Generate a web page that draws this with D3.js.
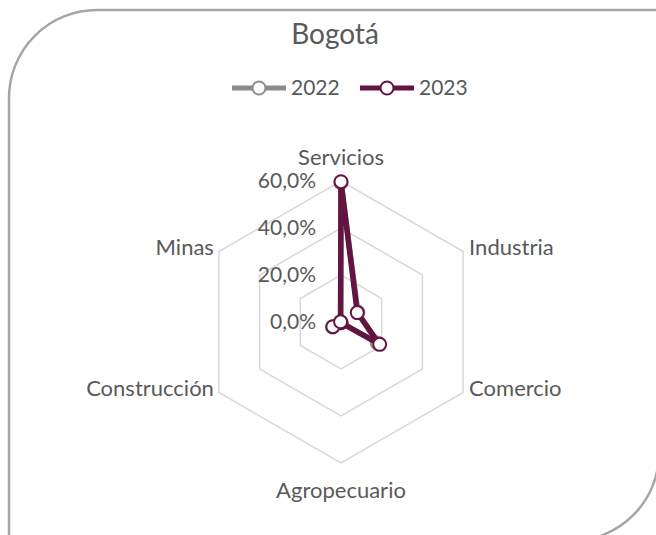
<!DOCTYPE html>
<meta charset="utf-8">
<style>
    body { margin: 0; background: #fff; }
    text { font-family: Lato, "Open Sans", sans-serif; fill: #595959; }
</style>
<svg width="656" height="535"></svg>
<script src="https://cdn.jsdelivr.net/npm/d3@7/dist/d3.min.js"></script>
<script>

    var categories = ["Servicios", "Industria", "Comercio", "Agropecuario", "Construcción", "Minas"];
    var series = ["2022", "2023"];
    var values2022 = [0.593, 0.083, 0.178, 0.003, 0.042, 0.002];
    var values2023 = [0.597, 0.080, 0.190, 0.003, 0.040, 0.002];
    var ticks = [0, 0.2, 0.4, 0.6];
    var colors = ["#8c8c8c", "#631440"];

    var svg = d3.select("svg"),
        cx = 341, cy = 322, radius = 141;

    // frame with two rounded corners
    var r = 88, x0 = 9, y0 = 10, x1 = 659, y1 = 541;
    svg.append("path")
        .attr("d", "M" + x0 + "," + y1 + " L" + x0 + "," + (y0 + r) +
            " A" + r + "," + r + " 0 0 1 " + (x0 + r) + "," + y0 +
            " L" + x1 + "," + y0 + " L" + x1 + "," + (y1 - r) +
            " A" + r + "," + r + " 0 0 1 " + (x1 - r) + "," + y1 + " Z")
        .attr("fill", "#fff")
        .attr("stroke", "#a6a6a6")
        .attr("stroke-width", 2.5);

    svg.append("text")
        .attr("x", 335).attr("y", 44)
        .attr("text-anchor", "middle")
        .style("font-size", "28px")
        .text("Bogotá");

    var angle = d3.scalePoint().domain(categories.concat(["_"])).range([0, 2 * Math.PI]);
    var rScale = d3.scaleLinear().domain([0, 0.6]).range([0, radius]);
    var g = svg.append("g").attr("transform", "translate(" + cx + "," + cy + ")");

    function px(c, v) { return Math.sin(angle(c)) * rScale(v); }
    function py(c, v) { return -Math.cos(angle(c)) * rScale(v); }

    // hexagon grid
    g.selectAll(".grid")
        .data(ticks.slice(1))
        .join("polygon")
        .attr("points", function(t) {
            return categories.map(function(c) { return px(c, t) + "," + py(c, t); }).join(" ");
        })
        .attr("fill", "none")
        .attr("stroke", "#d9d9d9")
        .attr("stroke-width", 1.5);

    // value axis labels
    var fmt = function(v) { return d3.format(".1f")(v * 100).replace(".", ",") + "%"; };
    g.selectAll(".tick")
        .data(ticks)
        .join("text")
        .attr("x", -25)
        .attr("y", function(t) { return -rScale(t); })
        .attr("dy", "0.35em")
        .attr("text-anchor", "end")
        .style("font-size", "21px")
        .text(fmt);

    // category labels
    g.selectAll(".cat")
        .data(categories)
        .join("text")
        .attr("x", function(c) {
            var s = Math.sin(angle(c));
            return s > 0.1 ? px(c, 0.6) + 6 : s < -0.1 ? px(c, 0.6) - 5 : 0;
        })
        .attr("y", function(c) {
            var k = -Math.cos(angle(c));
            return k < -0.9 ? py(c, 0.6) - 24 : k > 0.9 ? py(c, 0.6) + 27 : py(c, 0.6) - 4;
        })
        .attr("dy", "0.35em")
        .attr("text-anchor", function(c) {
            var s = Math.sin(angle(c));
            return s > 0.1 ? "start" : s < -0.1 ? "end" : "middle";
        })
        .style("font-size", "22px")
        .text(function(c) { return c; });

    // series
    var line = d3.lineRadial()
        .angle(function(d) { return angle(d.c); })
        .radius(function(d) { return rScale(d.v); })
        .curve(d3.curveLinearClosed);

    [values2022, values2023].forEach(function(vals, i) {
        var pts = categories.map(function(c, j) { return { c: c, v: vals[j] }; });
        var sg = g.append("g");
        sg.append("path")
            .attr("d", line(pts))
            .attr("fill", "none")
            .attr("stroke", colors[i])
            .attr("stroke-width", 5.5)
            .attr("stroke-linejoin", "round");
        sg.selectAll("circle")
            .data(pts)
            .join("circle")
            .attr("cx", function(d) { return px(d.c, d.v); })
            .attr("cy", function(d) { return py(d.c, d.v); })
            .attr("r", 6.5)
            .attr("fill", "#fff")
            .attr("stroke", colors[i])
            .attr("stroke-width", 2);
    });

    // legend
    var lx = [232, 360];
    var lg = svg.selectAll(".legend")
        .data(series)
        .join("g")
        .attr("transform", function(d, i) { return "translate(" + lx[i] + ",88)"; });
    lg.append("line")
        .attr("x1", 0).attr("x2", 54)
        .attr("stroke", function(d, i) { return colors[i]; })
        .attr("stroke-width", 5);
    lg.append("circle")
        .attr("cx", 27).attr("r", 6.5)
        .attr("fill", "#fff")
        .attr("stroke", function(d, i) { return colors[i]; })
        .attr("stroke-width", 2);
    lg.append("text")
        .attr("x", 59).attr("dy", "0.35em")
        .style("font-size", "21px")
        .text(function(d) { return d; });

</script>
